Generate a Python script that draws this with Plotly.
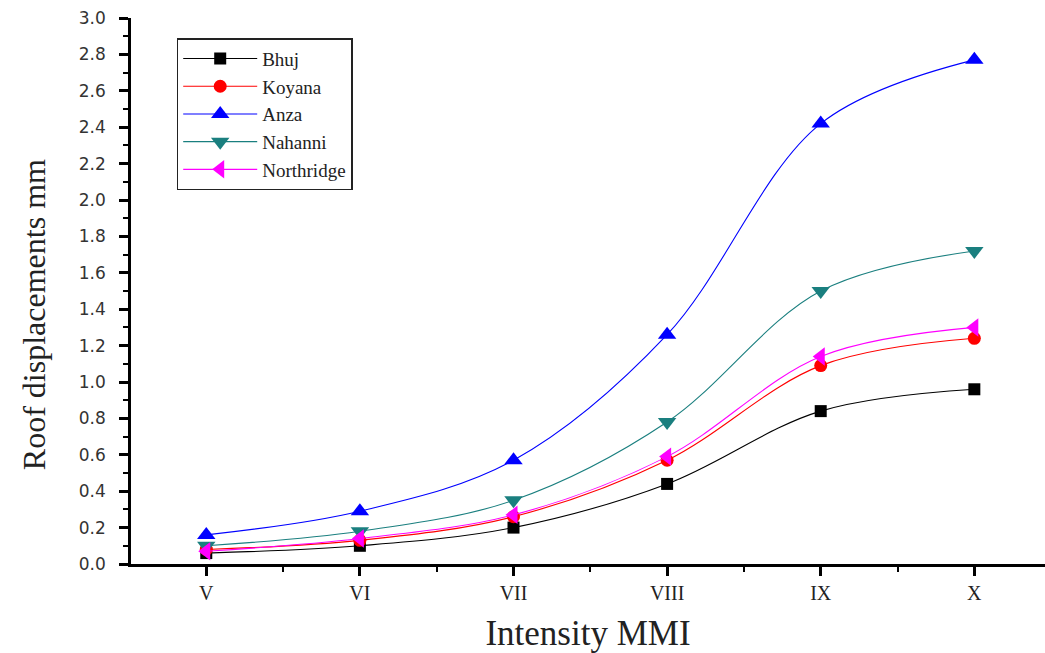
import plotly.graph_objects as go

categories = ["V", "VI", "VII", "VIII", "IX", "X"]
bhuj = [0.06, 0.10, 0.20, 0.44, 0.84, 0.96]
koyana = [0.08, 0.13, 0.26, 0.57, 1.09, 1.24]
anza = [0.16, 0.29, 0.57, 1.26, 2.42, 2.77]
nahanni = [0.10, 0.18, 0.35, 0.78, 1.50, 1.72]
northridge = [0.07, 0.14, 0.27, 0.59, 1.14, 1.30]

series = [
    ("Bhuj", bhuj, "#000000", "square", 12),
    ("Koyana", koyana, "#FF0000", "circle", 13),
    ("Anza", anza, "#0000FF", "triangle-up", 16),
    ("Nahanni", nahanni, "#1A7F7F", "triangle-down", 16),
    ("Northridge", northridge, "#FF00FF", "triangle-left", 16),
]

xidx = list(range(len(categories)))
fig = go.Figure()
for name, vals, color, sym, size in series:
    fig.add_trace(go.Scatter(
        x=xidx, y=vals, name=name, mode="lines+markers",
        line=dict(color=color, width=1.1, shape="spline", smoothing=1.0),
        marker=dict(symbol=sym, size=size, color=color),
    ))

fig.update_layout(
    width=1045, height=653,
    margin=dict(l=131, r=0, t=18, b=89),
    plot_bgcolor="white", paper_bgcolor="white",
    font=dict(family="Liberation Serif", color="#111"),
    showlegend=True,
    legend=dict(
        x=0.05, y=0.963, xanchor="left", yanchor="top",
        bgcolor="white", bordercolor="#222", borderwidth=1.5,
        font=dict(family="Liberation Serif", size=19, color="#222"),
        tracegroupgap=0, itemwidth=74,
    ),
    annotations=[dict(
        text="Roof displacements mm", textangle=-90,
        xref="paper", yref="paper", x=-0.106, y=0.456,
        xanchor="center", yanchor="middle", showarrow=False,
        font=dict(family="Liberation Serif", size=32, color="#222"),
    )],
)

fig.update_xaxes(
    range=[-0.49, 5.46], tickmode="array", tickvals=xidx, ticktext=categories,
    showline=True, linecolor="black", linewidth=2.5, mirror=False,
    ticks="outside", ticklen=9, tickwidth=2.5, tickcolor="black",
    minor=dict(tickmode="array", tickvals=[-0.5 + i for i in range(7)], ticks="outside", ticklen=5, tickwidth=2, tickcolor="black"),
    showgrid=False, zeroline=False,
    tickfont=dict(family="Liberation Serif", size=20, color="#222"),
    title=dict(text="Intensity MMI", font=dict(family="Liberation Serif", size=35, color="#222"), standoff=18),
)
fig.update_yaxes(
    range=[0, 3.0], tick0=0, dtick=0.2, tickformat=".1f",
    showline=True, linecolor="black", linewidth=2.5, mirror=False,
    ticks="outside", ticklen=9, tickwidth=2.5, tickcolor="black",
    minor=dict(dtick=0.1, ticks="outside", ticklen=5, tickwidth=2, tickcolor="black"),
    showgrid=False, zeroline=False,
    ticklabelstandoff=10,
    tickfont=dict(family="DejaVu Sans", size=17, color="#333"),
)

fig.write_html("out.html")
